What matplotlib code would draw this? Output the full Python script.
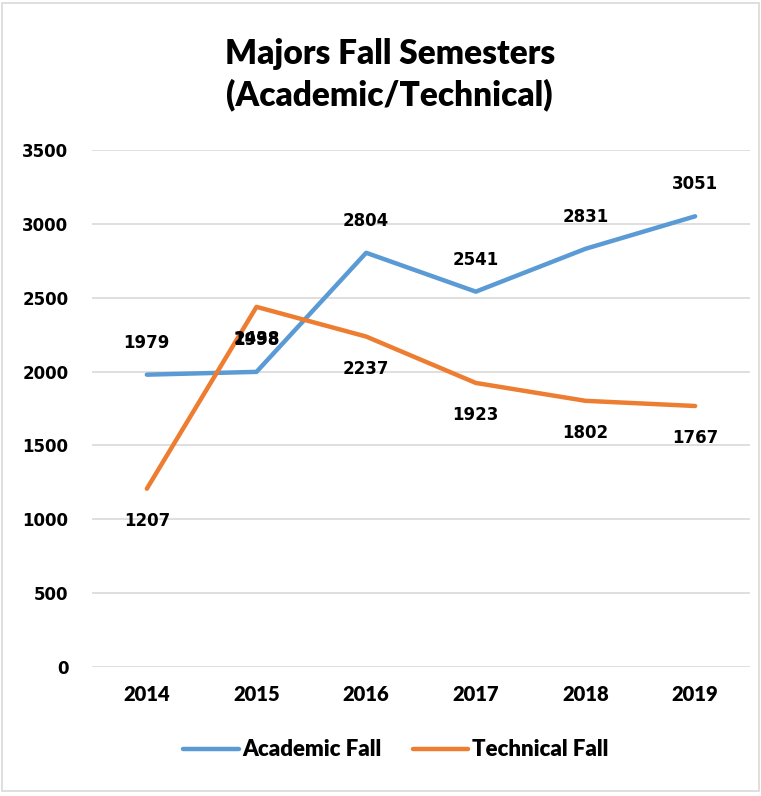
import matplotlib
matplotlib.use('Agg')
import matplotlib.pyplot as plt
from matplotlib.patches import Rectangle

years = ['2014', '2015', '2016', '2017', '2018', '2019']
academic = [1979, 1998, 2804, 2541, 2831, 3051]
technical = [1207, 2438, 2237, 1923, 1802, 1767]

BLUE = '#5B9BD5'
ORANGE = '#ED7D31'
GRID = '#D9D9D9'
NARROW = ['Lato', 'DejaVu Sans']

fig = plt.figure(figsize=(7.61, 7.96), dpi=100, facecolor='white')
fig.add_artist(Rectangle((0.003, 0.006), 0.994, 0.99, transform=fig.transFigure,
                         fill=False, edgecolor='#D9D9D9', linewidth=1.2))

ax = fig.add_axes([0.1209, 0.162, 0.8646, 0.6496])
x = list(range(len(years)))
ax.plot(x, academic, color=BLUE, linewidth=3.2, solid_capstyle='round', label='Academic Fall')
ax.plot(x, technical, color=ORANGE, linewidth=3.2, solid_capstyle='round', label='Technical Fall')

# data labels: academic above, technical below (Excel style, 2015 overlaps)
for xi, v in zip(x, academic):
    ax.annotate(str(v), (xi, v), xytext=(0, 23), textcoords='offset points',
                ha='center', va='center', fontsize=12, fontweight='bold', family='DejaVu Sans')
for xi, v in zip(x, technical):
    ax.annotate(str(v), (xi, v), xytext=(0, -23), textcoords='offset points',
                ha='center', va='center', fontsize=12, fontweight='bold', family='DejaVu Sans')

ax.set_xlim(-0.5, 5.5)
ax.set_ylim(0, 3500)
ax.set_yticks(range(0, 3501, 500))
ax.set_xticks(x)
ax.set_xticklabels(years, family=NARROW, fontweight='heavy', fontsize=14.5)
for lbl in ax.get_yticklabels():
    lbl.set_fontfamily('DejaVu Sans')
    lbl.set_fontweight('bold')
    lbl.set_fontsize(12)
ax.tick_params(axis='both', length=0)
ax.tick_params(axis='y', pad=17)
ax.tick_params(axis='x', pad=13)
ax.grid(axis='y', color=GRID, linewidth=1.2)
ax.set_axisbelow(True)
for s in ax.spines.values():
    s.set_visible(False)

fig.text(0.512, 0.906, 'Majors Fall Semesters\n(Academic/Technical)', ha='center', va='center',
         family=NARROW, fontweight='heavy', fontsize=24, linespacing=1.34)

fig.legend(loc='center', bbox_to_anchor=(0.52, 0.058), ncol=2, frameon=False,
           handlelength=2.5, handletextpad=0.15, columnspacing=1.4,
           prop={'family': NARROW, 'weight': 'heavy', 'size': 16})

fig.savefig('out.png', dpi=100, facecolor='white')
